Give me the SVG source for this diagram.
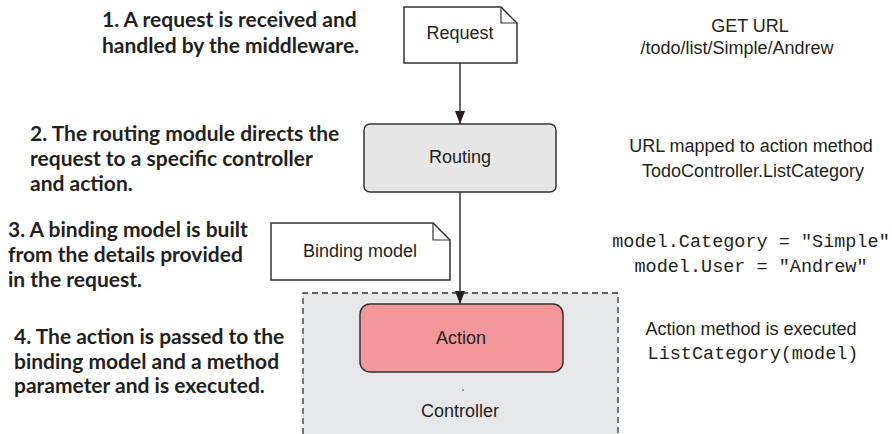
<svg xmlns="http://www.w3.org/2000/svg" width="892" height="434" viewBox="0 0 892 434">
<style>
.lbl{font-family:"Liberation Sans",Arial,sans-serif;font-size:18px;fill:#231f20}
.mono{font-family:"Liberation Mono","Courier New",monospace;font-size:18.5px;fill:#231f20}
.note{font-family:Lato,"Open Sans",sans-serif;font-weight:bold;font-size:21px;fill:#231f20}
.box{stroke:#333;stroke-width:1.5}
.conn{stroke:#333;stroke-width:1.5;fill:none}
</style>
<defs>
<marker id="arr" markerWidth="13" markerHeight="10" refX="13" refY="5" orient="auto" markerUnits="userSpaceOnUse" viewBox="0 0 13 10">
<path d="M0,0 L13,5 L0,10 Z" fill="#231f20"/>
</marker>
</defs>
<rect width="892" height="434" fill="#fff"/>

<g id="controller">
<path d="M303,434 L303,293 L618,293 L618,434" fill="#e6e7e8" stroke="#333" stroke-width="1.3" stroke-dasharray="6,4"/>
<circle cx="463" cy="390" r="1" fill="#777"/>
<text class="lbl" x="460" y="417" text-anchor="middle">Controller</text>
</g>

<g id="connectors">
<path class="conn" d="M460,63 L460,124" marker-end="url(#arr)"/>
<path class="conn" d="M460,192 L460,304" marker-end="url(#arr)"/>
</g>

<g id="request">
<path class="box" d="M404,7 L501,7 L517,23 L517,63 L404,63 Z" fill="#fff"/>
<path d="M501,7 L501,23 L517,23" fill="none" stroke="#333" stroke-width="1.2"/>
<text class="lbl" x="460" y="39" text-anchor="middle">Request</text>
</g>

<g id="routing">
<rect class="box" x="364" y="124" width="192" height="68" rx="6" fill="#e6e6e6"/>
<text class="lbl" x="460" y="163" text-anchor="middle">Routing</text>
</g>

<g id="binding-model">
<path class="box" d="M271,223 L433,223 L450,240 L450,280 L271,280 Z" fill="#fff"/>
<path d="M433,223 L433,240 L450,240" fill="none" stroke="#333" stroke-width="1.2"/>
<text class="lbl" x="360" y="257" text-anchor="middle">Binding model</text>
</g>

<g id="action">
<rect class="box" x="360" y="304" width="203" height="68" rx="10" fill="#f4979b"/>
<text class="lbl" x="461" y="344" text-anchor="middle">Action</text>
</g>

<g id="notes-left">
<text class="note" x="102" y="27">1. A request is received and</text>
<text class="note" x="102" y="53">handled by the middleware.</text>
<text class="note" x="30" y="141">2. The routing module directs the</text>
<text class="note" x="30" y="166">request to a specific controller</text>
<text class="note" x="30" y="191">and action.</text>
<text class="note" x="8" y="237">3. A binding model is built</text>
<text class="note" x="8" y="262">from the details provided</text>
<text class="note" x="8" y="287">in the request.</text>
<text class="note" x="14" y="344">4. The action is passed to the</text>
<text class="note" x="14" y="369">binding model and a method</text>
<text class="note" x="14" y="393">parameter and is executed.</text>
</g>

<g id="notes-right">
<text class="lbl" x="750" y="32" text-anchor="middle">GET URL</text>
<text class="lbl" x="737" y="54" text-anchor="middle">/todo/list/Simple/Andrew</text>
<text class="lbl" x="751" y="152" text-anchor="middle">URL mapped to action method</text>
<text class="lbl" x="753" y="177" text-anchor="middle">TodoController.ListCategory</text>
<text class="mono" x="751" y="247" text-anchor="middle">model.Category = "Simple"</text>
<text class="mono" x="751" y="272" text-anchor="middle">model.User = "Andrew"</text>
<text class="lbl" x="751" y="335" text-anchor="middle">Action method is executed</text>
<text class="mono" x="753" y="359" text-anchor="middle">ListCategory(model)</text>
</g>
</svg>
